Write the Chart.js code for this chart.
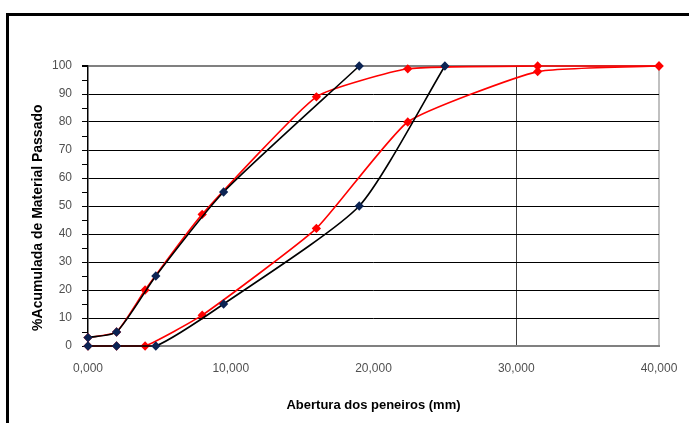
<!DOCTYPE html>
<html>
<head>
<meta charset="utf-8">
<script src="https://cdn.jsdelivr.net/npm/chart.js@4"></script>
<style>
  html, body { margin: 0; padding: 0; background: #fff; overflow: hidden; }
  #frame { position: absolute; left: 6px; top: 13px; width: 800px; height: 600px; border: 3px solid #000; }
  #chart { position: absolute; left: 0; top: 0; }
</style>
</head>
<body>
<div id="frame"></div>
<canvas id="chart" width="689" height="423"></canvas>
<script>
// sieve openings (mm) and % passing
const blackX = [0, 2, 4.75, 9.5, 19, 25];
const blackUpperY = [3, 5, 25, 55, 100];
const blackLowerY = [0, 0, 0, 15, 50, 100];
const redX = [0, 2, 4, 8, 16, 22.4, 31.5, 40];
const redUpperY = [3, 5, 20, 47, 89, 99, 100, 100];
const redLowerY = [0, 0, 0, 11, 42, 80, 98, 100];

const xTicks = [0, 10, 20, 30, 40];
const yMax = 100;

function pairs(xs, ys) {
  return ys.map((y, i) => ({ x: xs[i], y: y }));
}

function series(xs, ys, line, marker, tension) {
  return {
    data: pairs(xs, ys),
    borderColor: line,
    borderWidth: 1.6,
    backgroundColor: marker,
    pointBackgroundColor: marker,
    pointBorderColor: marker,
    pointStyle: "rectRot",
    pointRadius: 3.5,
    tension: tension,
    clip: false,
  };
}

const font = { family: "'Liberation Sans', Arial, sans-serif" };

new Chart(document.getElementById("chart"), {
  type: "line",
  data: {
    datasets: [
      series(blackX, blackUpperY, "#000000", "#0c2454", 0.2),
      series(blackX, blackLowerY, "#000000", "#0c2454", 0.2),
      series(redX, redUpperY, "#ff0000", "#ff0000", 0.15),
      series(redX, redLowerY, "#ff0000", "#ff0000", 0.15),
    ],
  },
  options: {
    responsive: false,
    animation: false,
    layout: { padding: { top: 66, right: 30, left: 0, bottom: 0 } },
    plugins: { legend: { display: false }, tooltip: { enabled: false } },
    scales: {
      x: {
        type: "linear",
        min: 0,
        max: 40,
        afterFit: (s) => {
          s.height = 77;
          s.paddingLeft = 0;
          s.paddingRight = 0;
        },
        afterBuildTicks: (s) => { s.ticks = xTicks.map((v) => ({ value: v })); },
        ticks: {
          padding: 15,
          color: "#505050",
          font: { ...font, size: 12 },
          callback: (v) => v.toFixed(3).replace(".", ","),
        },
        grid: {
          drawTicks: false,
          color: (c) => c.tick && c.tick.value === 30 ? "#404040" : c.tick && c.tick.value === 40 ? "#c0c0c0" : "rgba(0,0,0,0)",
          lineWidth: (c) => c.tick && c.tick.value === 40 ? 2 : 1,
        },
        border: { color: "#808080", width: 2 },
        title: {
          display: true,
          text: "Abertura dos peneiros (mm)",
          color: "#000",
          font: { ...font, size: 13, weight: "bold" },
          padding: { top: 0, bottom: 10 },
        },
      },
      y: {
        min: 0,
        max: yMax,
        afterFit: (s) => { s.width = 88; },
        ticks: {
          stepSize: 5,
          autoSkip: false,
          padding: 10,
          color: "#505050",
          font: { ...font, size: 12 },
          callback: (v) => (v % 10 === 0 ? v : ""),
        },
        grid: {
          tickLength: 6,
          tickColor: "#000",
          color: (c) => {
            const v = c.tick ? c.tick.value : 0;
            if (v % 10 !== 0 || v === 0) return "rgba(0,0,0,0)";
            return v === yMax ? "#808080" : "#000";
          },
          lineWidth: (c) => (c.tick && c.tick.value === yMax ? 2 : 1),
        },
        border: { color: "#000", width: 1.5 },
        title: {
          display: true,
          text: "%Acumulada de Material Passado      ",
          color: "#000",
          font: { ...font, size: 14, weight: "bold" },
          padding: { top: 30, bottom: 0 },
        },
      },
    },
  },
});
</script>
</body>
</html>
